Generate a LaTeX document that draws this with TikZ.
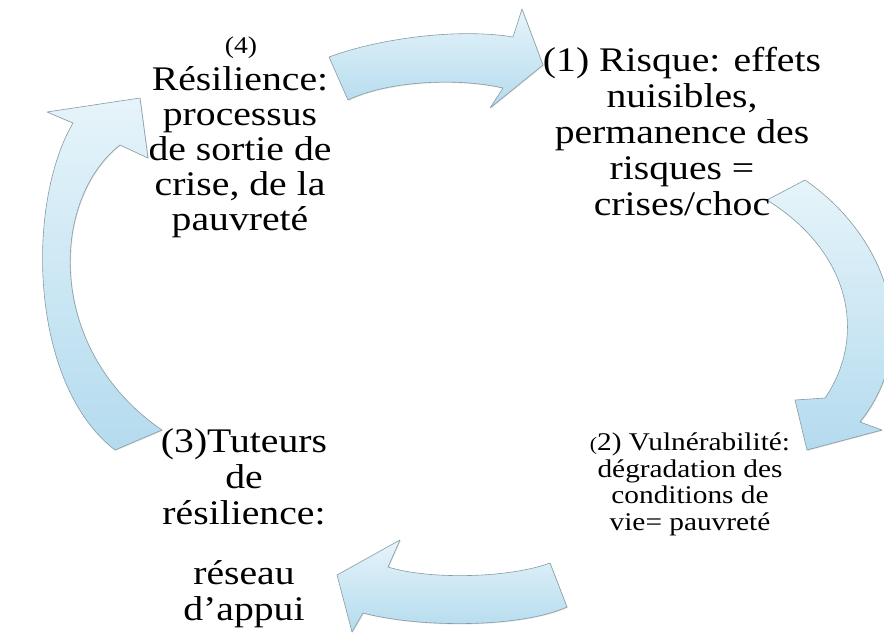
\documentclass[tikz,border=0pt]{standalone}
\usepackage{fontspec}
\setmainfont{Liberation Serif}
\newfontfamily\wideSerif{Liberation Serif}[FakeStretch=1.15]
\usepackage{xcolor}
\usepackage{tikz}
\usetikzlibrary{shadows}
\definecolor{cycleTop}{RGB}{230,244,250}
\definecolor{cycleBottom}{RGB}{180,219,238}
\definecolor{cycleEdge}{RGB}{135,155,165}
\tikzset{
  cycleArrow/.style={draw=cycleEdge, line width=0.6pt, line join=round,
    top color=cycleTop, bottom color=cycleBottom,
    drop shadow={opacity=0.25, shadow xshift=0.8pt, shadow yshift=-0.8pt}},
  bigLabel/.style={align=center, inner sep=0pt, font=\wideSerif\fontsize{34.5}{36}\selectfont},
  smallLabel/.style={align=center, inner sep=0pt, font=\wideSerif\fontsize{25.5}{26.5}\selectfont}
}

\begin{document}
\begin{tikzpicture}[x=1pt, y=-1pt]
    \clip (0,0) rectangle (884,635);
    % fleches du cycle
    \path[cycleArrow] (329,57) .. controls (380,38) and (460,28) .. (513,37) -- (522,9) -- (543,65)
        -- (490,108) -- (503,88) .. controls (460,78) and (390,80) .. (348,100) -- cycle;
    \path[cycleArrow] (805,180) .. controls (885,235) and (925,340) .. (860,422) -- (882,430) -- (807,450)
        -- (795,400) -- (825,398) .. controls (865,340) and (855,255) .. (767,200) -- cycle;
    \path[cycleArrow] (550,563) .. controls (510,578) and (430,580) .. (388,567) -- (400,540) -- (337,575)
        -- (352,632) -- (363,613) .. controls (420,628) and (520,628) .. (567,607) -- cycle;
    \path[cycleArrow] (115,450) .. controls (30,385) and (25,205) .. (73,123) -- (47,112) -- (140,98)
        -- (148,158) -- (120,145) .. controls (50,200) and (45,350) .. (162,430) -- cycle;
    % textes (ancre base = derniere ligne)
    \node[bigLabel, anchor=base] (risque) at (682,215) {(1) Risque: effets\\ nuisibles,\\ permanence des\\ risques =\\ crises/choc};
    \node[smallLabel, anchor=base] (vulnerabilite) at (690,530) {{\fontsize{19}{19}\selectfont(}2) Vulnérabilité:\\ dégradation des\\ conditions de\\ vie= pauvreté};
    \node[bigLabel, anchor=base] (tuteurs) at (244,524) {(3)Tuteurs\\ de\\ résilience:};
    \node[bigLabel, anchor=base] (appui) at (244,620) {réseau\\ d’appui};
    \node[anchor=base, inner sep=0pt, font=\wideSerif\fontsize{24}{24}\selectfont] (numQuatre) at (241,53) {(4)};
    \node[bigLabel, anchor=base, font=\wideSerif\fontsize{34.5}{35}\selectfont] (resilience) at (240,230) {Résilience:\\ processus\\ de sortie de\\ crise, de la\\ pauvreté};
\end{tikzpicture}
\end{document}
